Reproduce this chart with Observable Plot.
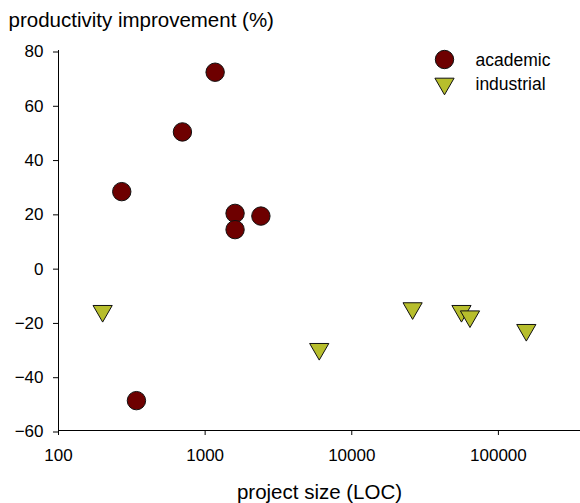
<!DOCTYPE html>
<html>
<head>
<meta charset="utf-8">
<script src="https://cdn.jsdelivr.net/npm/d3@7"></script>
<script src="https://cdn.jsdelivr.net/npm/@observablehq/plot@0.6"></script>
<style>
  html, body { margin: 0; padding: 0; background: #fff; }
</style>
</head>
<body>
<div id="chart"></div>
<script>
// ---- data ----
const academicLOC = [270, 700, 1170, 1600, 1600, 2400, 340];
const academicImprovement = [28, 50, 72, 20, 14, 19, -49];
const industrialLOC = [200, 6000, 26000, 56000, 64000, 155000];
const industrialImprovement = [-17, -31, -16, -17, -19, -24];
const seriesNames = ["academic", "industrial"];
const xTicks = [100, 1000, 10000, 100000];
const yTicks = [-60, -40, -20, 0, 20, 40, 60, 80];
const yTitle = "productivity improvement (%)";
const xTitle = "project size (LOC)";

const academic = academicLOC.map((x, i) => ({x, y: academicImprovement[i]}));
const industrial = industrialLOC.map((x, i) => ({x, y: industrialImprovement[i]}));

const triangleDown = {
  draw(context, size) {
    const r = Math.sqrt(size / Math.PI);
    const h = r * Math.sqrt(3);
    context.moveTo(-r, -h / 2);
    context.lineTo(r, -h / 2);
    context.lineTo(0, h / 2);
    context.closePath();
  }
};

const circleFill = "#6e0000";
const triFill = "#b7be2c";
const font = "'Liberation Sans', Arial, sans-serif";

const chart = Plot.plot({
  width: 580,
  height: 503,
  marginLeft: 58,
  marginTop: 50,
  marginBottom: 73,
  marginRight: 0,
  style: {fontFamily: font, fontSize: "17px", background: "#fff", color: "#000"},
  x: {type: "log", domain: [100, 363000]},
  y: {domain: [-60, 80]},
  marks: [
    Plot.axisX({ticks: xTicks, tickFormat: d => String(d), tickSize: 5, tickPadding: 13, fontSize: 17, label: null, stroke: "#000"}),
    Plot.axisY({ticks: yTicks, tickSize: 5, tickPadding: 10, fontSize: 17, dy: 1.5, label: null, stroke: "#000"}),
    Plot.ruleY([-60], {stroke: "#000", strokeWidth: 1}),
    Plot.ruleX([100], {stroke: "#000", strokeWidth: 1}),
    Plot.dot(academic, {x: "x", y: "y", r: 9.2, fill: circleFill, stroke: "#111", strokeWidth: 1, symbol: "circle"}),
    Plot.dot(industrial, {x: "x", y: "y", r: 9.6, fill: triFill, stroke: "#111", strokeWidth: 1, symbol: triangleDown}),
    // titles
    Plot.text([yTitle], {frameAnchor: "top-left", dx: -50, dy: -23.5, textAnchor: "start", lineAnchor: "bottom", fontSize: 20.5, fill: "#000"}),
    Plot.text([xTitle], {frameAnchor: "bottom", dy: 68, textAnchor: "middle", lineAnchor: "bottom", fontSize: 20.5, fill: "#000"}),
    // legend
    Plot.dot([seriesNames[0]], {frameAnchor: "top-left", dx: 386, dy: 9, r: 9.2, fill: circleFill, stroke: "#111", strokeWidth: 1, symbol: "circle"}),
    Plot.dot([seriesNames[1]], {frameAnchor: "top-left", dx: 386, dy: 36, r: 9.6, fill: triFill, stroke: "#111", strokeWidth: 1, symbol: triangleDown}),
    Plot.text([seriesNames[0]], {frameAnchor: "top-left", dx: 417, dy: 15, text: d => d, textAnchor: "start", lineAnchor: "bottom", fontSize: 17.5, fill: "#000"}),
    Plot.text([seriesNames[1]], {frameAnchor: "top-left", dx: 417, dy: 39, text: d => d, textAnchor: "start", lineAnchor: "bottom", fontSize: 17.5, fill: "#000"})
  ]
});
document.getElementById("chart").appendChild(chart);
</script>
</body>
</html>
